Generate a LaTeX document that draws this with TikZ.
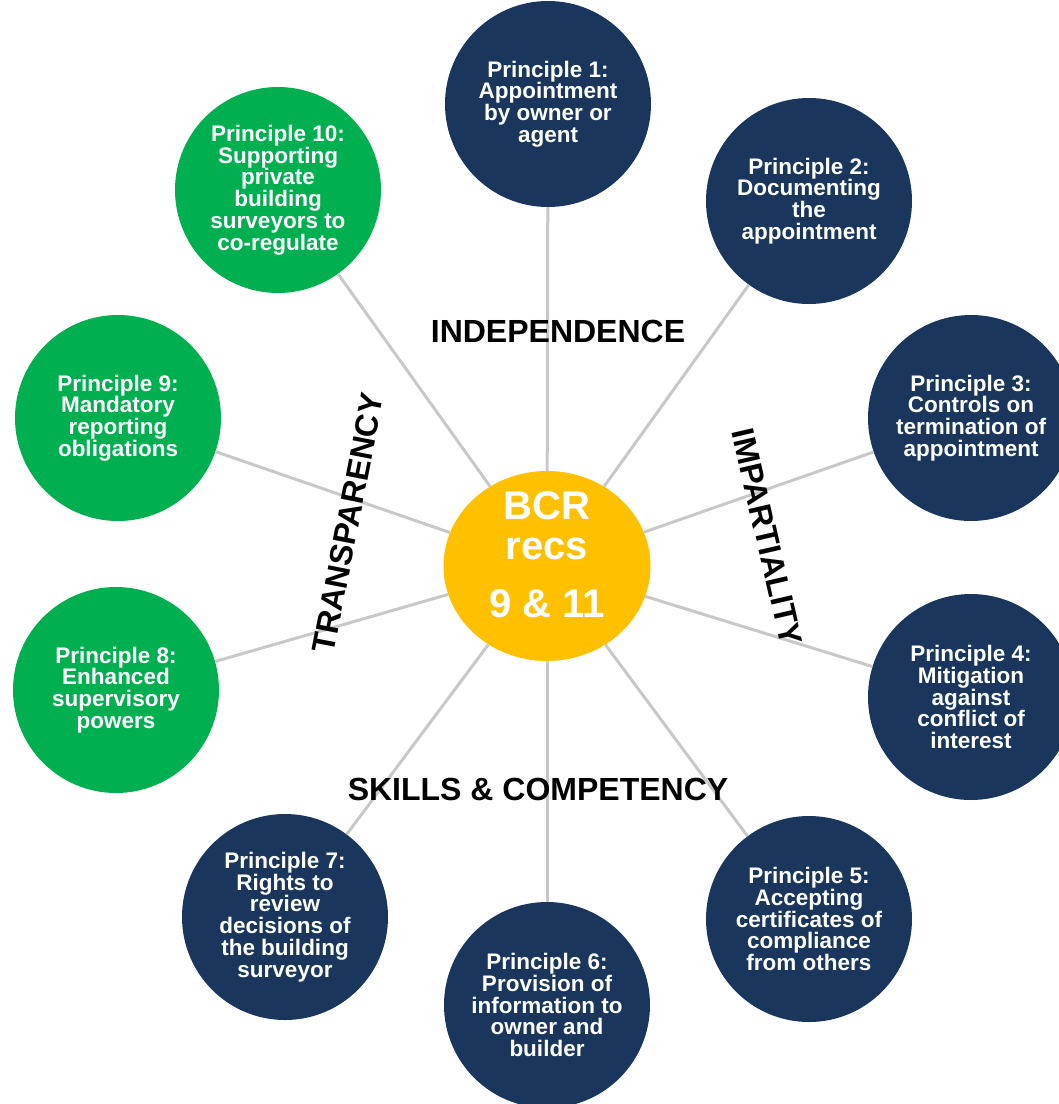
\documentclass[tikz,border=0pt]{standalone}
\usepackage{fontspec}
\setmainfont{Liberation Sans}
\usepackage{tikz}
\usetikzlibrary{shapes.geometric}
\definecolor{mynavy}{RGB}{26,54,93}
\definecolor{mygreen}{RGB}{0,176,80}
\definecolor{mygold}{RGB}{255,192,0}
\definecolor{myspoke}{RGB}{200,200,200}
\tikzset{
  navyball/.style={circle, fill=mynavy, minimum size=206pt, inner sep=0pt,
    text=white, align=center, font=\fontsize{22.5}{21.8}\selectfont\bfseries},
  greenball/.style={navyball, fill=mygreen},
  hubnode/.style={ellipse, fill=mygold, minimum width=207pt,
    minimum height=190pt, inner sep=0pt},
  hubtext/.style={text=white, align=center,
    font=\fontsize{40}{40}\selectfont\bfseries},
  theme/.style={text=black, font=\fontsize{32}{32}\selectfont\bfseries},
  spoke/.style={line width=3pt, color=myspoke}
}

\begin{document}
\begin{tikzpicture}[x=1pt, y=-1pt]
  \path[use as bounding box, clip] (0,0) rectangle (1059,1104);
  % centre
  \node[hubnode] (hub) at (547,566) {};
  \node[hubtext] (hubtext) at (547,555) {BCR\\recs\\[18pt]9 \& 11};
  % principles
  \node[navyball] (p1) at (548,104) {Principle 1:\\Appointment\\by owner or\\agent};
  \node[navyball] (p2) at (809,201) {Principle 2:\\Documenting\\the\\appointment};
  \node[navyball] (p3) at (971,418) {Principle 3:\\Controls on\\termination of\\appointment};
  \node[navyball] (p4) at (971,697) {Principle 4:\\Mitigation\\against\\conflict of\\interest};
  \node[navyball] (p5) at (809,919) {Principle 5:\\Accepting\\certificates of\\compliance\\from others};
  \node[navyball] (p6) at (547,1005) {Principle 6:\\Provision of\\information to\\owner and\\builder};
  \node[navyball] (p7) at (285,917) {Principle 7:\\Rights to\\review\\decisions of\\the building\\surveyor};
  \node[greenball] (p8) at (116,690) {Principle 8:\\Enhanced\\supervisory\\powers};
  \node[greenball] (p9) at (118,418) {Principle 9:\\Mandatory\\reporting\\obligations};
  \node[greenball] (p10) at (278,190) {Principle 10:\\Supporting\\private\\building\\surveyors to\\co-regulate};
  % spokes
  \foreach \p in {p1,p2,p3,p4,p5,p6,p7,p8,p9,p10} {
     \draw[spoke] (hub) -- (\p);
  }
  % themes
  \node[theme] (indep) at (558,331) {INDEPENDENCE};
  \node[theme] (skills) at (538,789) {SKILLS \& COMPETENCY};
  \node[theme, rotate=79] (transp) at (348,523) {TRANSPARENCY};
  \node[theme, rotate=-77] (impart) at (767,537) {IMPARTIALITY};
\end{tikzpicture}
\end{document}
